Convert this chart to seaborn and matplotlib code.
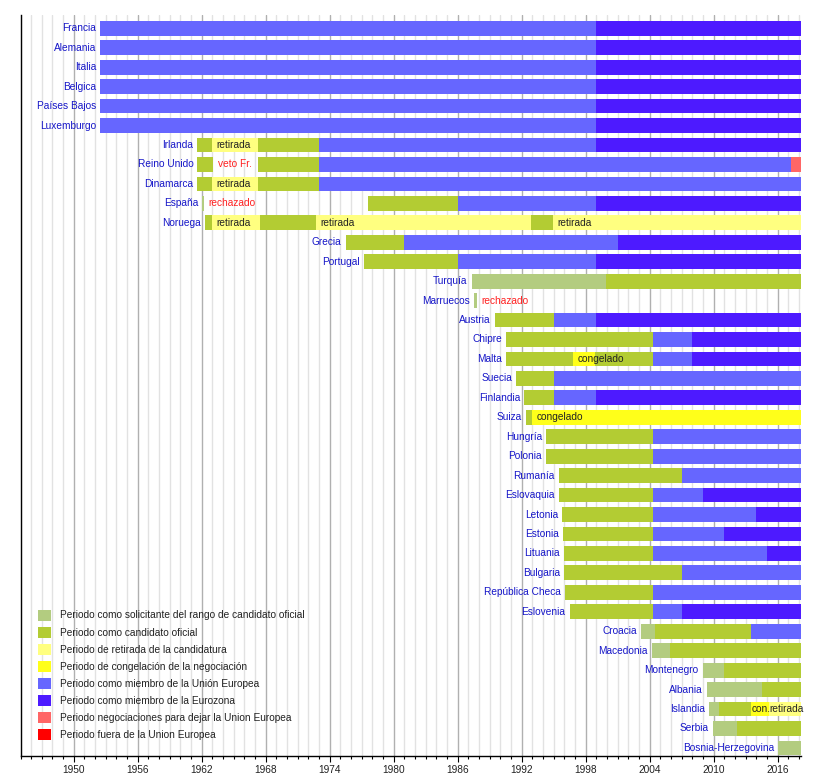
import matplotlib
matplotlib.use("Agg")
import matplotlib.pyplot as plt
from matplotlib.patches import Patch
from matplotlib.ticker import MultipleLocator
import seaborn as sns
import pandas as pd

END = 2018.2

countries = ["Francia", "Alemania", "Italia", "Belgica", "Países Bajos", "Luxemburgo",
             "Irlanda", "Reino Unido", "Dinamarca", "España", "Noruega", "Grecia", "Portugal",
             "Turquía", "Marruecos", "Austria", "Chipre", "Malta", "Suecia", "Finlandia", "Suiza",
             "Hungría", "Polonia", "Rumanía", "Eslovaquia", "Letonia", "Estonia", "Lituania",
             "Bulgaria", "República Checa", "Eslovenia", "Croacia", "Macedonia", "Montenegro",
             "Albania", "Islandia", "Serbia", "Bosnia-Herzegovina"]
founders = countries[:6]

solicitante = [("España", 1962.05, 1962.25), ("Turquía", 1987.3, 1999.95),
               ("Marruecos", 1987.55, 1987.85), ("Croacia", 2003.2, 2004.5),
               ("Macedonia", 2004.25, 2005.95), ("Montenegro", 2009.0, 2010.95),
               ("Albania", 2009.4, 2014.5), ("Islandia", 2009.6, 2010.5),
               ("Serbia", 2009.97, 2012.2), ("Bosnia-Herzegovina", 2016.05, END)]

candidato = [("Irlanda", 1961.6, 1963.0), ("Irlanda", 1967.3, 1973.0),
             ("Reino Unido", 1961.6, 1963.1), ("Reino Unido", 1967.3, 1973.0),
             ("Dinamarca", 1961.6, 1963.0), ("Dinamarca", 1967.3, 1973.0),
             ("España", 1977.6, 1986.0),
             ("Noruega", 1962.35, 1963.0), ("Noruega", 1967.5, 1972.75), ("Noruega", 1992.9, 1994.95),
             ("Grecia", 1975.5, 1981.0), ("Portugal", 1977.25, 1986.0),
             ("Turquía", 1999.95, END), ("Austria", 1989.5, 1995.0),
             ("Chipre", 1990.55, 2004.35),
             ("Malta", 1990.55, 1996.85), ("Malta", 1998.9, 2004.35),
             ("Suecia", 1991.5, 1995.0), ("Finlandia", 1992.25, 1995.0),
             ("Suiza", 1992.4, 1993.0),
             ("Hungría", 1994.3, 2004.35), ("Polonia", 1994.3, 2004.35),
             ("Rumanía", 1995.5, 2007.0), ("Eslovaquia", 1995.5, 2004.35),
             ("Letonia", 1995.8, 2004.35), ("Estonia", 1995.9, 2004.35),
             ("Lituania", 1996.0, 2004.35), ("Bulgaria", 1996.0, 2007.0),
             ("República Checa", 1996.1, 2004.35), ("Eslovenia", 1996.5, 2004.35),
             ("Croacia", 2004.5, 2013.5), ("Macedonia", 2005.95, END),
             ("Montenegro", 2010.95, END), ("Albania", 2014.5, END),
             ("Islandia", 2010.5, 2013.5), ("Serbia", 2012.2, END)]

retirada = [("Irlanda", 1963.0, 1967.3), ("Dinamarca", 1963.0, 1967.3),
            ("Noruega", 1963.0, 1967.5), ("Noruega", 1972.75, 1992.9),
            ("Noruega", 1994.95, END), ("Islandia", 2015.2, END)]

congelado = [("Malta", 1996.85, 1998.9), ("Suiza", 1993.0, END), ("Islandia", 2013.5, 2015.2)]

miembro = [(c, 1952.5, 1999.0) for c in founders] + [
    ("Irlanda", 1973.0, 1999.0), ("Reino Unido", 1973.0, 2017.25), ("Dinamarca", 1973.0, END),
    ("España", 1986.0, 1999.0), ("Grecia", 1981.0, 2001.0), ("Portugal", 1986.0, 1999.0),
    ("Austria", 1995.0, 1999.0), ("Chipre", 2004.35, 2008.0), ("Malta", 2004.35, 2008.0),
    ("Suecia", 1995.0, END), ("Finlandia", 1995.0, 1999.0),
    ("Hungría", 2004.35, END), ("Polonia", 2004.35, END), ("Rumanía", 2007.0, END),
    ("Eslovaquia", 2004.35, 2009.0), ("Letonia", 2004.35, 2014.0), ("Estonia", 2004.35, 2011.0),
    ("Lituania", 2004.35, 2015.0), ("Bulgaria", 2007.0, END), ("República Checa", 2004.35, END),
    ("Eslovenia", 2004.35, 2007.0), ("Croacia", 2013.5, END)]

eurozona = [(c, 1999.0, END) for c in founders] + [
    ("Irlanda", 1999.0, END), ("España", 1999.0, END), ("Portugal", 1999.0, END),
    ("Austria", 1999.0, END), ("Finlandia", 1999.0, END), ("Grecia", 2001.0, END),
    ("Chipre", 2008.0, END), ("Malta", 2008.0, END), ("Eslovaquia", 2009.0, END),
    ("Letonia", 2014.0, END), ("Estonia", 2011.0, END), ("Lituania", 2015.0, END),
    ("Eslovenia", 2007.0, END)]

salida = [("Reino Unido", 2017.25, END)]
fuera = []

annotations = [("Irlanda", 1963.0, "retirada", "dark"), ("Reino Unido", 1963.1, "veto Fr.", "red"),
               ("Dinamarca", 1963.0, "retirada", "dark"), ("España", 1962.25, "rechazado", "red"),
               ("Noruega", 1963.0, "retirada", "dark"), ("Noruega", 1972.75, "retirada", "dark"),
               ("Noruega", 1994.95, "retirada", "dark"), ("Marruecos", 1987.85, "rechazado", "red"),
               ("Malta", 1996.85, "congelado", "dark"), ("Suiza", 1993.0, "congelado", "dark"),
               ("Islandia", 2013.5, "con.", "dark"), ("Islandia", 2015.2, "retirada", "dark")]

categories = [
    ("Periodo como solicitante del rango de candidato oficial", solicitante, "#b3cc80"),
    ("Periodo como candidato oficial", candidato, "#b3cc33"),
    ("Periodo de retirada de la candidatura", retirada, "#ffff80"),
    ("Periodo de congelación de la negociación", congelado, "#ffff1a"),
    ("Periodo como miembro de la Unión Europea", miembro, "#6666ff"),
    ("Periodo como miembro de la Eurozona", eurozona, "#4d1aff"),
    ("Periodo negociaciones para dejar la Union Europea", salida, "#ff6666"),
    ("Periodo fuera de la Union Europea", fuera, "#ff0000"),
]

sns.set_theme(style="white")
plt.rcParams["font.family"] = ["Liberation Sans", "DejaVu Sans"]

rows = []
for label, segs, color in categories:
    for c, s, e in segs:
        rows.append({"country": c, "start": s, "end": e, "cat": label, "color": color})
df = pd.DataFrame(rows)
ypos = {c: i for i, c in enumerate(countries)}

fig = plt.figure(figsize=(8.4, 7.75), dpi=100)
ax = fig.add_axes([20.5 / 840, 1 - 755.5 / 775, (801 - 20.5) / 840, (755.5 - 15) / 775])

ax.set_xlim(1945.0, END)
ax.set_ylim(37.39, -0.684)

ax.xaxis.set_major_locator(MultipleLocator(6))
ax.xaxis.set_minor_locator(MultipleLocator(1))
ax.grid(which="minor", axis="x", color="#e2e2e2", lw=1.0, zorder=0)
ax.grid(which="major", axis="x", color="#b0b0b0", lw=1.0, zorder=0)
ax.set_axisbelow(True)

ax.barh([ypos[c] for c in df["country"]], df["end"] - df["start"], left=df["start"],
        height=0.76, color=df["color"], linewidth=0, zorder=2)

FS = 7.3
blue = "#1616c8"
first_start = df.groupby("country")["start"].min()
for c in countries:
    ax.annotate(c, (first_start[c], ypos[c]), xytext=(-3, 0), textcoords="offset points",
                ha="right", va="center", fontsize=FS, color=blue, zorder=3)

for c, x, t, col in annotations:
    pad = 0.3 if c == "Islandia" else 3
    ax.annotate(t, (x, ypos[c]), xytext=(pad, 0), textcoords="offset points",
                ha="left", va="center", fontsize=FS,
                color="#ff2020" if col == "red" else "#222222", zorder=3)

ax.set_yticks([])
ax.set_ylabel("")
ax.set_xlabel("")
sns.despine(ax=ax, top=True, right=True)
for s in ("left", "bottom"):
    ax.spines[s].set_color("black")
    ax.spines[s].set_linewidth(1.0)
ax.set_xticks(range(1950, 2017, 6))
ax.tick_params(axis="x", which="major", length=4, width=0.8, color="black",
               labelsize=FS, labelcolor="#222222", pad=2.8, bottom=True)
ax.tick_params(axis="x", which="minor", length=1.8, width=0.8, color="black", bottom=True)

handles = [Patch(facecolor=col, edgecolor="none", label=lab) for lab, _, col in categories]
ax.legend(handles=handles, loc="upper left", bbox_to_anchor=(37.7 / 840, 1 - 609.5 / 775),
          bbox_transform=fig.transFigure, frameon=False, fontsize=FS, borderpad=0,
          borderaxespad=0, handlelength=1.3, handleheight=1.3, handletextpad=0.9,
          labelspacing=0.6, labelcolor="#222222")

fig.savefig("out.png", dpi=100)
